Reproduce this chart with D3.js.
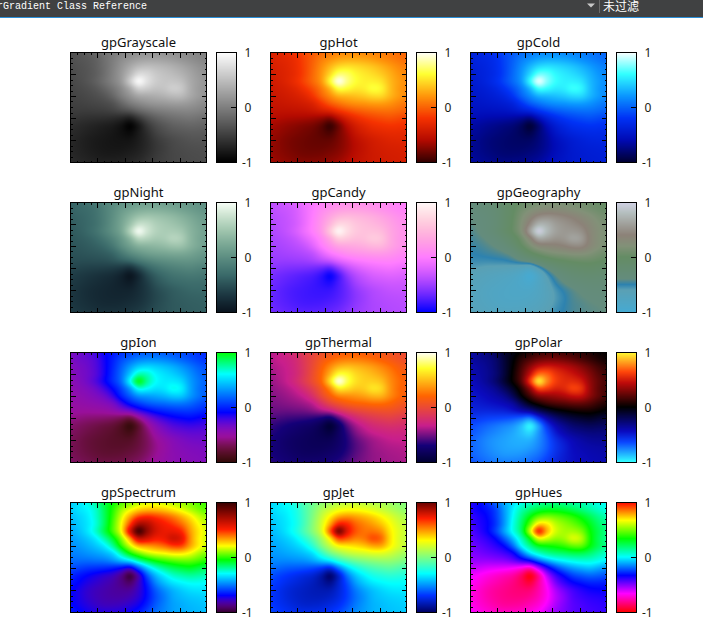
<!DOCTYPE html>
<html><head><meta charset="utf-8">
<script src="https://cdn.jsdelivr.net/npm/d3@7"></script>
<style>html,body{margin:0;padding:0;background:#fff;overflow:hidden}svg{display:block}</style>
</head><body><svg id="c" width="703" height="638"></svg>
<script>
const titles=["gpGrayscale","gpHot","gpCold","gpNight","gpCandy","gpGeography","gpIon","gpThermal","gpPolar","gpSpectrum","gpJet","gpHues"];
const tickLabels=[-1,0,1];
const headerText="rGradient Class Reference";
const filterText="未过滤";
// field values: rows top -> bottom, columns left -> right
const field=[
[-.38,-.34,-.28,-.2,-.11,-.05,.02,.07,.12,.15,.15,.14,.12,.1,.07,.03,0],
[-.38,-.34,-.31,-.25,-.13,-.02,.1,.18,.25,.28,.28,.26,.22,.17,.12,.07,.03],
[-.4,-.37,-.33,-.26,-.14,0,.16,.32,.46,.5,.47,.43,.38,.31,.23,.15,.1],
[-.42,-.38,-.34,-.27,-.14,.02,.2,.45,.72,.7,.58,.52,.47,.4,.3,.2,.14],
[-.44,-.4,-.34,-.25,-.12,.02,.2,.6,1,.77,.61,.55,.55,.5,.34,.23,.16],
[-.46,-.43,-.39,-.33,-.22,-.09,.08,.32,.64,.6,.52,.54,.63,.58,.36,.22,.15],
[-.48,-.46,-.43,-.39,-.33,-.2,-.01,.15,.3,.33,.36,.4,.46,.46,.33,.22,.15],
[-.5,-.49,-.47,-.45,-.42,-.36,-.2,-.04,.06,.14,.18,.2,.23,.23,.19,.12,.07],
[-.53,-.53,-.53,-.52,-.51,-.47,-.4,-.33,-.2,-.11,-.04,0,.03,.05,.05,.02,-.02],
[-.58,-.6,-.62,-.63,-.64,-.66,-.7,-.76,-.57,-.38,-.26,-.18,-.13,-.1,-.08,-.11,-.14],
[-.64,-.67,-.7,-.73,-.76,-.79,-.87,-1,-.82,-.57,-.41,-.32,-.25,-.22,-.2,-.21,-.23],
[-.67,-.7,-.74,-.77,-.8,-.83,-.88,-.93,-.8,-.65,-.49,-.4,-.34,-.31,-.29,-.29,-.3],
[-.69,-.73,-.77,-.8,-.82,-.84,-.85,-.85,-.78,-.68,-.56,-.48,-.42,-.38,-.35,-.34,-.34],
[-.7,-.73,-.77,-.8,-.82,-.83,-.83,-.81,-.76,-.68,-.58,-.51,-.44,-.41,-.39,-.38,-.37],
[-.69,-.72,-.75,-.78,-.8,-.8,-.79,-.76,-.72,-.65,-.56,-.5,-.45,-.43,-.41,-.4,-.39],
[-.66,-.69,-.72,-.74,-.75,-.75,-.74,-.71,-.67,-.6,-.53,-.49,-.45,-.43,-.42,-.41,-.4]];
const gpGrayscale=[[0,0,0,0],[1,255,255,255]];
const gpHot=[[0,50,0,0],[.2,180,10,0],[.4,245,50,0],[.6,255,150,10],[.8,255,255,50],[1,255,255,255]];
const gpCold=[[0,0,0,50],[.2,0,10,180],[.4,0,50,245],[.6,10,150,255],[.8,50,255,255],[1,255,255,255]];
const gpNight=[[0,10,20,30],[1,250,255,250]];
const gpCandy=[[0,0,0,255],[1,255,250,250]];
const gpGeography=[[0,70,170,210],[.2,90,160,180],[.25,45,130,175],[.3,100,140,125],[.5,100,140,100],[.6,130,145,120],[.7,140,130,120],[.9,180,190,190],[1,210,210,230]];
const gpIon=[[0,50,10,10],[.45,0,0,255],[.8,0,255,255],[1,0,255,0]];
const gpThermal=[[0,0,0,50],[.15,20,0,120],[.33,200,30,140],[.6,255,100,0],[.85,255,255,40],[1,255,255,255]];
const gpPolar=[[0,50,255,255],[.18,10,70,255],[.28,10,10,190],[.5,0,0,0],[.72,190,10,10],[.82,255,70,10],[1,255,255,50]];
const gpSpectrum=[[0,50,0,50],[.15,0,0,255],[.35,0,255,255],[.6,255,255,0],[.75,255,30,0],[1,50,0,0]];
const gpJet=[[0,0,0,100],[.15,0,50,255],[.35,0,255,255],[.65,255,255,0],[.85,255,30,0],[1,100,0,0]];
const gpHues=[[0,255,0,0],[1/3,0,0,255],[2/3,0,255,0],[1,255,0,0]];
const gradients=[gpGrayscale,gpHot,gpCold,gpNight,gpCandy,gpGeography,gpIon,gpThermal,gpPolar,gpSpectrum,gpJet,gpHues];
const hsvFlags=[0,0,0,1,1,0,1,0,0,1,0,1];
const xDomain=[0,5],yDomain=[0,5],colorDomain=[-1,1];

function rgb2hsv(r,g,b){const M=Math.max(r,g,b),m=Math.min(r,g,b),d=M-m;let h=0;
 if(d>0){if(M===r)h=((g-b)/d+6)%6;else if(M===g)h=(b-r)/d+2;else h=(r-g)/d+4;h*=60;}
 return [h,M?d/M:0,M];}
function hsv2rgb(h,s,v){h=((h%360)+360)%360/60;const i=Math.floor(h),f=h-i,p=v*(1-s),q=v*(1-s*f),t=v*(1-s*(1-f));
 return [[v,t,p],[q,v,p],[p,v,t],[p,q,v],[t,p,v],[v,p,q]][i%6];}
function colorAt(st,hsv,t){
 t=Math.max(0,Math.min(1,t));let i=1;while(i<st.length-1&&st[i][0]<t)i++;
 const a=st[i-1],b=st[i],u=(t-a[0])/(b[0]-a[0]);
 if(!hsv)return [0,1,2].map(k=>a[k+1]+(b[k+1]-a[k+1])*u);
 const A=rgb2hsv(a[1],a[2],a[3]),B=rgb2hsv(b[1],b[2],b[3]);
 let dh=B[0]-A[0];if(dh>180)dh-=360;if(dh<-180)dh+=360;
 return hsv2rgb(A[0]+dh*u,A[1]+(B[1]-A[1])*u,A[2]+(B[2]-A[2])*u);}
// smooth cell interpolation: blend of Catmull-Rom and B-spline weights
function cub(p0,p1,p2,p3,u){
 const cr=p1+.5*u*(p2-p0+u*(2*p0-5*p1+4*p2-p3+u*(3*(p1-p2)+p3-p0)));
 const v=1-u,bs=(v*v*v*p0+(3*u*u*u-6*u*u+4)*p1+(-3*u*u*u+3*u*u+3*u+1)*p2+u*u*u*p3)/6;
 return .65*cr+.35*bs;}
function sample(fx,fy){
 const R=field.length-1,C=field[0].length-1;
 const gx=fx*C,gy=fy*R,ix=Math.min(C-1,Math.floor(gx)),iy=Math.min(R-1,Math.floor(gy)),ux=gx-ix,uy=gy-iy;
 const cl=(a,n)=>Math.max(0,Math.min(n,a)),v=[];
 for(let j=-1;j<3;j++){const row=field[cl(iy+j,R)];
  v.push(cub(row[cl(ix-1,C)],row[ix],row[ix+1],row[cl(ix+2,C)],ux));}
 return cub(v[0],v[1],v[2],v[3],uy);}

const svg=d3.select("#c");
// header
svg.append("rect").attr("x",0).attr("y",0).attr("width",703).attr("height",17).attr("fill","#404142");
svg.append("rect").attr("x",0).attr("y",17).attr("width",703).attr("height",1).attr("fill","#2a8fd8");
svg.append("text").attr("x",-3).attr("y",9).attr("font-family","Liberation Mono").attr("font-size",10).attr("fill","#fff").text(headerText);
svg.append("path").attr("d","M587 3.5h8l-4 4z").attr("fill","#c8c8c8");
svg.append("rect").attr("x",599).attr("y",0).attr("width",1).attr("height",13).attr("fill","#6a6a6a");
svg.append("text").attr("x",603).attr("y",11).attr("font-family","Noto Sans CJK SC").attr("font-size",12).attr("fill","#fff").text(filterText);

const colXs=[70,270,470],rowYs=[52,202,352,502];
const W=137,H=110,BX=146.5,BW=19.5;
const font="Noto Sans";
gradients.forEach((st,idx)=>{
 const ox=colXs[idx%3],oy=rowYs[Math.floor(idx/3)],hsv=hsvFlags[idx];
 const g=svg.append("g").attr("transform",`translate(${ox},${oy})`);
 const x=d3.scaleLinear().domain(xDomain).range([0,W]),y=d3.scaleLinear().domain(yDomain).range([H,0]);
 const cs=d3.scaleLinear().domain(colorDomain).range([0,1]);
 const cv=document.createElement("canvas");cv.width=W;cv.height=H;
 const ctx=cv.getContext("2d"),im=ctx.createImageData(W,H);
 for(let j=0;j<H;j++)for(let i=0;i<W;i++){
  const dx=x.invert(i+.5),dy=y.invert(j+.5);
  const val=sample((dx-xDomain[0])/(xDomain[1]-xDomain[0]),1-(dy-yDomain[0])/(yDomain[1]-yDomain[0]));
  const c=colorAt(st,hsv,cs(val)),p=(j*W+i)*4;
  im.data[p]=c[0];im.data[p+1]=c[1];im.data[p+2]=c[2];im.data[p+3]=255;}
 ctx.putImageData(im,0,0);
 g.append("image").attr("width",W).attr("height",H).attr("href",cv.toDataURL());
 // colour bar
 const by=d3.scaleLinear().domain(colorDomain).range([H,0]);
 const cb=document.createElement("canvas");cb.width=1;cb.height=H;
 const bc=cb.getContext("2d"),bi=bc.createImageData(1,H);
 for(let j=0;j<H;j++){const c=colorAt(st,hsv,cs(by.invert(j+.5)));bi.data[j*4]=c[0];bi.data[j*4+1]=c[1];bi.data[j*4+2]=c[2];bi.data[j*4+3]=255;}
 bc.putImageData(bi,0,0);
 g.append("image").attr("x",BX).attr("width",BW).attr("height",H).attr("preserveAspectRatio","none").style("image-rendering","pixelated").attr("href",cb.toDataURL());
 // ticks
 const tickG=g.append("g").attr("stroke","#000").attr("stroke-width",1).attr("shape-rendering","crispEdges");
 const seq=d3.range(xDomain[0],xDomain[1]+.001,.25);
 seq.forEach(v=>{const maj=Number.isInteger(v),L=maj?5:2;if(v===xDomain[0]||v===xDomain[1])return;
  const px=Math.round(x(v))+.5,py=Math.round(y(v))+.5;
  tickG.append("line").attr("x1",px).attr("x2",px).attr("y1",H+.5).attr("y2",H+.5-L);
  tickG.append("line").attr("x1",px).attr("x2",px).attr("y1",.5).attr("y2",.5+L);
  tickG.append("line").attr("y1",py).attr("y2",py).attr("x1",.5).attr("x2",.5+L);
  tickG.append("line").attr("y1",py).attr("y2",py).attr("x1",W-.5).attr("x2",W-.5-L);
 });
 g.append("rect").attr("x",.5).attr("y",.5).attr("width",W-1).attr("height",H).attr("fill","none").attr("stroke","#000").attr("shape-rendering","crispEdges");
 g.append("rect").attr("x",BX).attr("y",.5).attr("width",BW).attr("height",H).attr("fill","none").attr("stroke","#000").attr("shape-rendering","crispEdges");
 g.append("line").attr("x1",BX+BW).attr("x2",BX+BW-5).attr("y1",by(0)+.5).attr("y2",by(0)+.5).attr("stroke","#000").attr("shape-rendering","crispEdges");
 tickLabels.forEach(v=>{
  g.append("text").attr("x",BX+BW+(v<0?6:8.5)).attr("y",by(v)+4.5).attr("font-family",font).attr("font-size",12).attr("fill","#221").text(v);
 });
 g.append("text").attr("x",W/2).attr("y",-5).attr("text-anchor","middle").attr("font-family",font).attr("font-size",13).attr("fill","#111").text(titles[idx]);
});
</script></body></html>
